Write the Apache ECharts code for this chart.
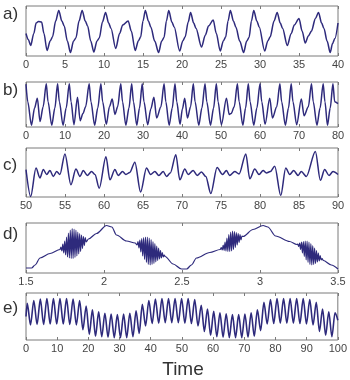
<!DOCTYPE html>
<html>
<head>
<meta charset="utf-8">
<script src="https://cdn.jsdelivr.net/npm/echarts@6/dist/echarts.min.js"></script>
<style>
  html, body { margin: 0; padding: 0; background: #fff; }
  #chart { width: 350px; height: 380px; }
</style>
</head>
<body>
<div id="chart"></div>
<script>
// [time, value] pairs, value is 0 (box bottom) .. 1 (box top)
var aPoints = [
  [0, 0.45], [0.3, 0.33], [0.6, 0.21], [1.0, 0.45], [1.3, 0.66], [1.6, 0.69], [2.0, 0.68], [2.3, 0.45],
  [2.7, 0.11], [3.1, 0.3], [3.4, 0.38], [3.8, 0.7], [4.2, 0.91], [4.6, 0.7], [4.9, 0.6], [5.3, 0.3],
  [5.7, 0.07], [6.1, 0.3], [6.4, 0.36], [6.8, 0.7], [7.2, 0.91], [7.6, 0.7], [7.9, 0.6], [8.3, 0.3],
  [8.7, 0.08], [9.1, 0.3], [9.4, 0.36], [9.8, 0.68], [10.2, 0.87], [10.6, 0.66], [10.9, 0.55], [11.5, 0.15],
  [12.0, 0.45], [12.4, 0.62], [13.1, 0.7], [13.5, 0.5], [14.0, 0.11], [14.4, 0.3], [14.7, 0.38], [15.0, 0.7],
  [15.3, 0.91], [15.7, 0.7], [16.0, 0.58], [16.5, 0.3], [17.0, 0.07], [17.4, 0.3], [17.7, 0.37], [18.0, 0.7],
  [18.3, 0.91], [18.7, 0.68], [19.0, 0.58], [19.7, 0.1], [20.1, 0.3], [20.4, 0.38], [20.8, 0.68], [21.1, 0.87],
  [21.5, 0.66], [21.8, 0.55], [22.5, 0.18], [23.0, 0.42], [23.4, 0.6], [24.0, 0.72], [24.4, 0.45], [24.9, 0.1],
  [25.3, 0.3], [25.6, 0.38], [25.9, 0.7], [26.2, 0.91], [26.6, 0.7], [26.9, 0.58], [27.4, 0.3], [27.9, 0.07],
  [28.3, 0.3], [28.6, 0.37], [28.9, 0.7], [29.2, 0.91], [29.6, 0.7], [29.9, 0.58], [30.6, 0.1], [31.0, 0.3],
  [31.3, 0.38], [31.8, 0.7], [32.2, 0.87], [32.6, 0.66], [32.9, 0.55], [33.5, 0.21], [34.0, 0.45], [34.4, 0.62],
  [35.0, 0.75], [35.4, 0.5], [35.8, 0.26], [36.2, 0.4], [36.6, 0.5], [37.1, 0.75], [37.5, 0.87], [37.9, 0.66],
  [38.2, 0.55], [38.6, 0.3], [39.0, 0.07], [39.3, 0.25], [39.6, 0.35], [40.0, 0.66]
]

var bPoints = [
  [0, 0.95], [0.45, 0.56], [1.4, 0.04], [2.2, 0.42], [2.9, 0.64], [3.6, 0.12], [4.4, 0.45], [5.2, 0.96],
  [5.65, 0.56], [6.6, 0.04], [7.4, 0.42], [8.1, 0.96], [8.55, 0.56], [9.5, 0.04], [10.3, 0.42], [11.1, 0.96],
  [11.55, 0.56], [12.3, 0.05], [13.2, 0.66], [13.9, 0.14], [14.6, 0.3], [15.3, 0.45], [16.2, 0.96], [16.65, 0.56],
  [17.6, 0.04], [18.4, 0.42], [19.2, 0.96], [19.65, 0.56], [20.6, 0.06], [21.4, 0.45], [22.1, 0.62], [22.8, 0.28],
  [23.5, 0.45], [24.3, 0.96], [24.75, 0.56], [25.6, 0.04], [26.4, 0.42], [27.1, 0.96], [27.55, 0.56], [28.4, 0.04],
  [29.1, 0.42], [29.8, 0.96], [30.25, 0.56], [31.2, 0.05], [32.0, 0.4], [32.8, 0.66], [33.5, 0.2], [34.6, 0.45],
  [35.4, 0.96], [35.85, 0.56], [36.7, 0.04], [37.5, 0.42], [38.2, 0.96], [38.65, 0.56], [39.5, 0.06], [40.1, 0.4],
  [40.7, 0.64], [41.4, 0.2], [42.2, 0.45], [42.9, 0.96], [43.35, 0.56], [44.3, 0.04], [45.1, 0.42], [45.9, 0.96],
  [46.35, 0.56], [47.3, 0.04], [48.1, 0.42], [48.8, 0.96], [49.25, 0.56], [50.1, 0.05], [51.4, 0.64], [52.1, 0.28],
  [52.6, 0.3], [53.4, 0.45], [54.2, 0.96], [54.65, 0.56], [55.6, 0.04], [56.3, 0.42], [57.0, 0.96], [57.45, 0.56],
  [58.4, 0.04], [59.2, 0.42], [60.0, 0.96], [60.45, 0.56], [61.3, 0.06], [62.5, 0.64], [63.2, 0.2], [64.3, 0.45],
  [65.1, 0.96], [65.55, 0.56], [66.5, 0.04], [67.3, 0.42], [68.0, 0.96], [68.45, 0.56], [69.4, 0.05], [70.6, 0.62],
  [71.3, 0.25], [72.4, 0.45], [73.2, 0.96], [73.65, 0.56], [74.6, 0.04], [75.4, 0.42], [76.2, 0.96], [76.65, 0.56],
  [77.3, 0.04], [78.0, 0.42], [78.7, 0.96], [79.15, 0.56], [80, 0.52]
]

var cPoints = [
  [50.0, 0.56], [50.6, 0.01], [51.28, 0.59], [51.79, 0.39], [52.22, 0.56], [52.65, 0.46], [53.07, 0.54], [53.5, 0.42],
  [53.93, 0.52], [54.35, 0.46], [54.99, 0.88], [55.76, 0.25], [56.4, 0.57], [56.92, 0.42], [57.34, 0.54], [57.85, 0.44],
  [58.41, 0.52], [58.84, 0.46], [59.39, 0.18], [60.25, 0.82], [60.76, 0.35], [61.4, 0.56], [61.82, 0.44], [62.38, 0.52],
  [62.81, 0.46], [63.3, 0.5], [63.96, 0.71], [64.69, 0.1], [65.45, 0.59], [65.97, 0.46], [66.52, 0.52], [67.03, 0.44],
  [67.59, 0.52], [68.02, 0.42], [68.5, 0.49], [69.21, 0.86], [69.72, 0.35], [70.36, 0.57], [70.79, 0.46], [71.43, 0.54],
  [71.94, 0.44], [72.5, 0.51], [73.05, 0.42], [73.69, 0.07], [74.5, 0.6], [75.2, 0.46], [75.7, 0.54], [76.1, 0.44],
  [76.77, 0.52], [77.32, 0.47], [78.18, 0.88], [78.69, 0.37], [79.33, 0.57], [79.88, 0.46], [80.4, 0.54], [80.82, 0.49],
  [81.33, 0.52], [81.89, 0.63], [82.66, 0.03], [83.3, 0.59], [83.81, 0.46], [84.32, 0.54], [84.88, 0.44], [85.3, 0.52],
  [85.94, 0.42], [87.1, 0.93], [87.74, 0.34], [88.29, 0.56], [88.85, 0.44], [89.36, 0.52], [90, 0.46]
]

// slow wave with four bursts
var dPoints = [
  [1.5, 0.1], [1.536, 0.1], [1.558, 0.16], [1.59, 0.3], [1.654, 0.39], [1.718, 0.47],
  [1.724, 0.52], [1.73, 0.44], [1.736, 0.58], [1.742, 0.4], [1.748, 0.64], [1.754, 0.36], [1.76, 0.72], [1.766, 0.32],
  [1.772, 0.8], [1.778, 0.3], [1.784, 0.86], [1.79, 0.29], [1.796, 0.89], [1.802, 0.29], [1.808, 0.88], [1.814, 0.31],
  [1.82, 0.86], [1.826, 0.34], [1.832, 0.82], [1.838, 0.38], [1.844, 0.79], [1.85, 0.43], [1.856, 0.76], [1.862, 0.49],
  [1.868, 0.73], [1.874, 0.55], [1.88, 0.71], [1.886, 0.62],
  [1.9, 0.68], [1.952, 0.79], [2.016, 0.95], [2.05, 0.92], [2.08, 0.76], [2.144, 0.64], [2.2, 0.6],
  [2.212, 0.56], [2.218, 0.63], [2.224, 0.5], [2.23, 0.66], [2.236, 0.42], [2.242, 0.69], [2.248, 0.34], [2.254, 0.71],
  [2.26, 0.27], [2.266, 0.72], [2.272, 0.21], [2.278, 0.72], [2.284, 0.17], [2.29, 0.7], [2.296, 0.16], [2.302, 0.67],
  [2.308, 0.17], [2.314, 0.63], [2.32, 0.19], [2.326, 0.59], [2.332, 0.22], [2.338, 0.54], [2.344, 0.25], [2.35, 0.5],
  [2.356, 0.28], [2.362, 0.45], [2.368, 0.3], [2.374, 0.41], [2.38, 0.32], [2.386, 0.36],
  [2.392, 0.33], [2.443, 0.18], [2.497, 0.08], [2.53, 0.08], [2.56, 0.16], [2.593, 0.3], [2.678, 0.41], [2.745, 0.47],
  [2.752, 0.51], [2.758, 0.46], [2.764, 0.56], [2.77, 0.45], [2.776, 0.62], [2.782, 0.44], [2.788, 0.7], [2.794, 0.43],
  [2.8, 0.77], [2.806, 0.43], [2.812, 0.82], [2.818, 0.44], [2.824, 0.84], [2.83, 0.47], [2.836, 0.83], [2.842, 0.51],
  [2.848, 0.81], [2.854, 0.56], [2.86, 0.79], [2.866, 0.61], [2.872, 0.77], [2.878, 0.66], [2.884, 0.74],
  [2.892, 0.73], [2.955, 0.87], [3.02, 0.95], [3.05, 0.92], [3.1, 0.74], [3.19, 0.63], [3.236, 0.57],
  [3.242, 0.58], [3.248, 0.53], [3.254, 0.6], [3.26, 0.47], [3.266, 0.62], [3.272, 0.4], [3.278, 0.63], [3.284, 0.33],
  [3.29, 0.64], [3.296, 0.26], [3.302, 0.64], [3.308, 0.21], [3.314, 0.62], [3.32, 0.17], [3.326, 0.59], [3.332, 0.16],
  [3.338, 0.55], [3.344, 0.17], [3.35, 0.5], [3.356, 0.19], [3.362, 0.45], [3.368, 0.22], [3.374, 0.4], [3.38, 0.24],
  [3.386, 0.35], [3.392, 0.26], [3.398, 0.29],
  [3.406, 0.25], [3.457, 0.16], [3.5, 0.08]
]

var ePoints = [
  [0, 0.5], [0.4, 0.78], [1.45, 0.32], [2.5, 0.84], [3.55, 0.33], [4.6, 0.87], [5.65, 0.33], [6.7, 0.88],
  [7.75, 0.34], [8.8, 0.88], [9.85, 0.34], [10.9, 0.88], [11.95, 0.34], [13.0, 0.88], [14.05, 0.33], [15.1, 0.87],
  [16.15, 0.32], [17.2, 0.84], [18.25, 0.22], [19.3, 0.72], [20.3, 0.12], [21.3, 0.64], [22.3, 0.08], [23.3, 0.6],
  [24.3, 0.07], [25.3, 0.57], [26.3, 0.06], [27.3, 0.55], [28.3, 0.05], [29.3, 0.54], [30.3, 0.05], [31.3, 0.55],
  [32.3, 0.05], [33.3, 0.57], [34.3, 0.07], [35.3, 0.62], [36.3, 0.14], [37.3, 0.76], [38.35, 0.3], [39.4, 0.84],
  [40.45, 0.35], [41.5, 0.87], [42.55, 0.36], [43.6, 0.88], [44.65, 0.37], [45.7, 0.88], [46.75, 0.37], [47.8, 0.88],
  [48.85, 0.37], [49.9, 0.88], [50.95, 0.36], [52.0, 0.88], [53.05, 0.35], [54.1, 0.86], [55.15, 0.3], [56.2, 0.74],
  [57.2, 0.18], [58.2, 0.66], [59.2, 0.1], [60.2, 0.61], [61.2, 0.07], [62.2, 0.58], [63.2, 0.06], [64.2, 0.56],
  [65.2, 0.05], [66.2, 0.54], [67.2, 0.05], [68.2, 0.54], [69.2, 0.05], [70.2, 0.55], [71.2, 0.06], [72.2, 0.58],
  [73.2, 0.08], [74.2, 0.64], [75.25, 0.2], [76.3, 0.8], [77.35, 0.34], [78.4, 0.86], [79.45, 0.35], [80.5, 0.88],
  [81.55, 0.36], [82.6, 0.88], [83.65, 0.36], [84.7, 0.88], [85.75, 0.36], [86.8, 0.88], [87.85, 0.35], [88.9, 0.88],
  [89.95, 0.34], [91.0, 0.86], [92.05, 0.32], [93.1, 0.8], [94.1, 0.18], [95.1, 0.66], [96.1, 0.1], [97.1, 0.6],
  [98.1, 0.07], [99.1, 0.58], [100, 0.42]
]

var panelLabels = ['a)', 'b)', 'c)', 'd)', 'e)']
var xMin = [0, 0, 50, 1.5, 0]
var xMax = [40, 80, 90, 3.5, 100]
var xStep = [5, 10, 5, 0.5, 10]
var xTitle = 'Time'

var panels = [
  { data: aPoints, top: 6, height: 50, labelY: 14, width: 1.5 },
  { data: bPoints, top: 82, height: 45, labelY: 90, width: 1.5 },
  { data: cPoints, top: 148, height: 49, labelY: 165, width: 1.5 },
  { data: dPoints, top: 223, height: 50, labelY: 234, width: 1.2 },
  { data: ePoints, top: 293, height: 47, labelY: 308, width: 1.6 }
]

var lineColor = '#2e2a7c'
var frameColor = '#7a7a7a'
var font = 'Liberation Sans'

var chart = echarts.init(document.getElementById('chart'), null, { renderer: 'canvas' })

var grids = [], xAxes = [], yAxes = [], series = [], graphics = []

panels.forEach(function (p, i) {
  grids.push({
    left: 26, right: 12, top: p.top, height: p.height,
    show: true, borderColor: frameColor, borderWidth: 1
  })
  // bottom axis with labels
  xAxes.push({
    type: 'value', gridIndex: i, min: xMin[i], max: xMax[i], interval: xStep[i],
    axisLine: { show: false, onZero: false },
    axisTick: { inside: true, length: 3, lineStyle: { color: frameColor } },
    axisLabel: { margin: 3, color: '#444', fontSize: 11, fontFamily: font },
    splitLine: { show: false }
  })
  // top axis, ticks only (matlab style box)
  xAxes.push({
    type: 'value', gridIndex: i, position: 'top', min: xMin[i], max: xMax[i], interval: xStep[i],
    axisLine: { show: false, onZero: false },
    axisTick: { inside: true, length: 3, lineStyle: { color: frameColor } },
    axisLabel: { show: false },
    splitLine: { show: false }
  })
  yAxes.push({ type: 'value', gridIndex: i, min: 0, max: 1, show: false })
  series.push({
    type: 'line',
    xAxisIndex: 2 * i,
    yAxisIndex: i,
    data: p.data,
    showSymbol: false,
    smooth: 0.3,
    smoothMonotone: 'x',
    lineStyle: { color: lineColor, width: p.width },
    silent: true
  })
  graphics.push({
    type: 'text', x: 3, y: p.labelY,
    style: { text: panelLabels[i], fontSize: 17, fill: '#333', fontFamily: font, verticalAlign: 'middle' }
  })
})

graphics.push({
  type: 'text', x: 183, y: 370,
  style: { text: xTitle, fontSize: 19, fill: '#333', fontFamily: font, align: 'center', verticalAlign: 'middle' }
})

chart.setOption({
  animation: false,
  grid: grids,
  xAxis: xAxes,
  yAxis: yAxes,
  series: series,
  graphic: graphics
})
</script>
</body>
</html>
